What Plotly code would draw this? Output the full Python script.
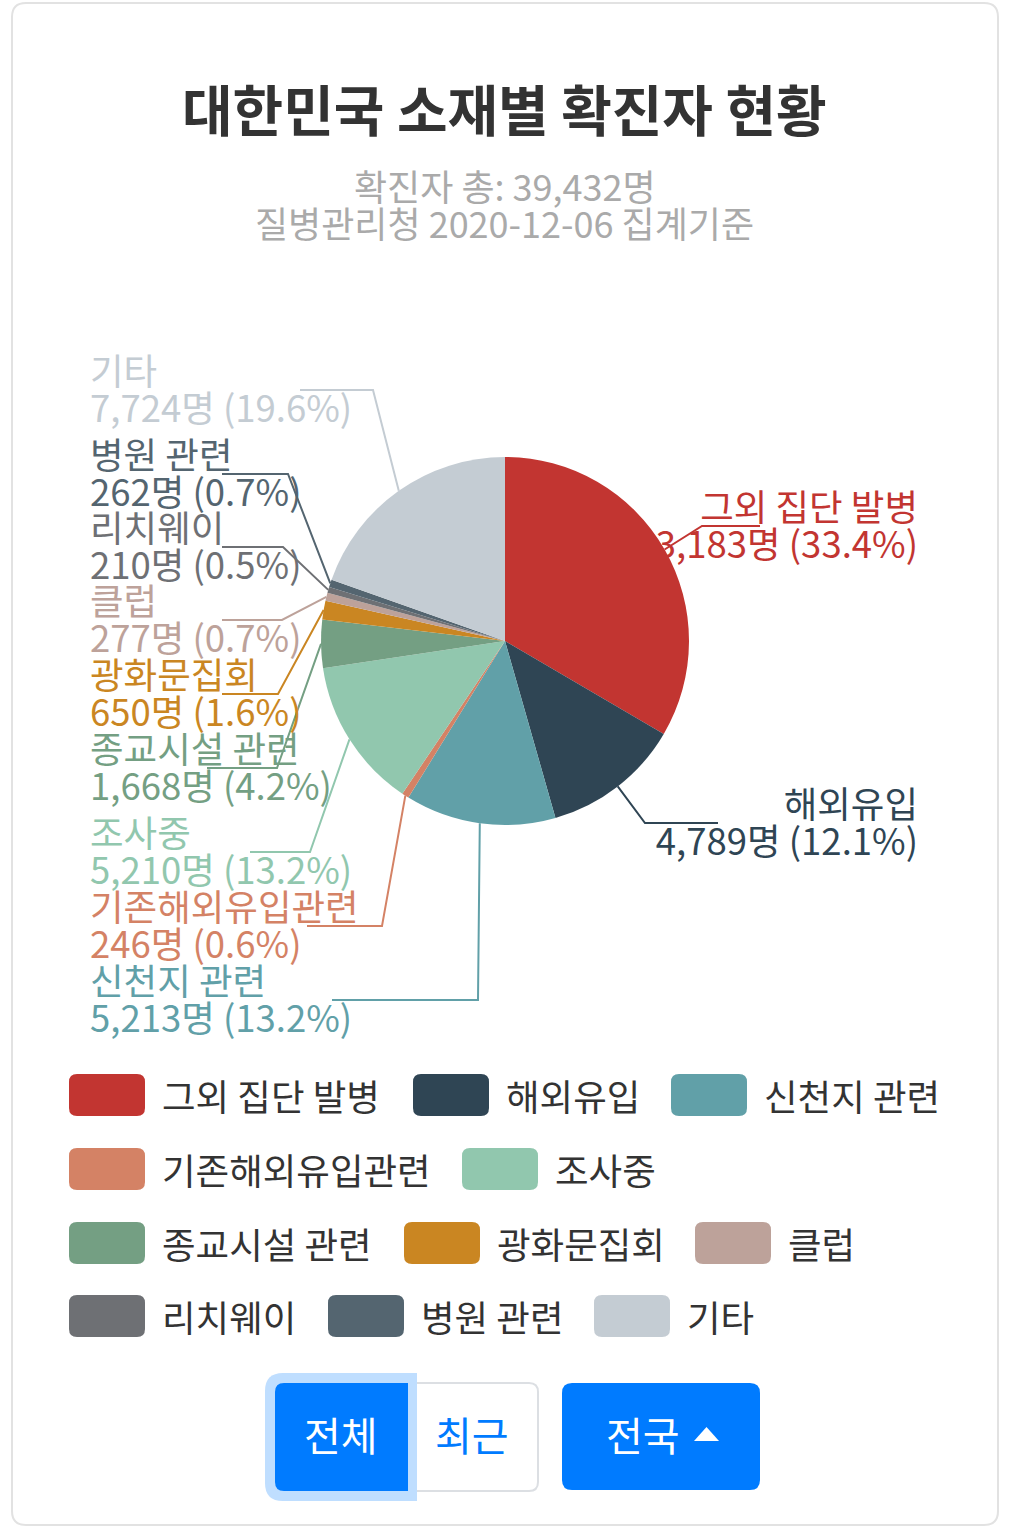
import math
import plotly.graph_objects as go

# 소재별 확진자 (질병관리청 2020-12-06 집계)
categories = ["그외 집단 발병", "해외유입", "신천지 관련", "기존해외유입관련", "조사중",
              "종교시설 관련", "광화문집회", "클럽", "리치웨이", "병원 관련", "기타"]
cases = [13183, 4789, 5213, 246, 5210, 1668, 650, 277, 210, 262, 7724]
colors = ["#c23531", "#2f4554", "#61a0a8", "#d48265", "#91c7ae", "#749f83",
          "#ca8622", "#bda29a", "#6e7074", "#546570", "#c4ccd3"]

title = "대한민국 소재별 확진자 현황"
subtitle = ["확진자 총: 39,432명", "질병관리청 2020-12-06 집계기준"]

# label layout (pixel space): side, label centre y, elbow x, end of horizontal line
label_side = ["r", "r", "l", "l", "l", "l", "l", "l", "l", "l", "l"]
label_y = [526, 823, 1000, 926, 852, 768, 694, 620, 547, 474, 390]
elbow_x = [702, 645, 478, 382, 310, 277, 278, 282, 283, 288, 373]
line_end_x = [760, 718, 332, 307, 250, 207, 222, 222, 222, 222, 300]

# legend layout: rows of (category index, rect left x)
legend_rows = [
    [(0, 69), (1, 413), (2, 671)],
    [(3, 69), (4, 462)],
    [(5, 69), (6, 404), (7, 695)],
    [(8, 69), (9, 328), (10, 594)],
]
legend_y = [1095, 1169, 1243, 1316]

W, H = 1009, 1530
CX, CY, R = 505, 641, 184
FONT = "Noto Sans CJK KR"


def rrect(x0, y0, x1, y1, tl, tr, br, bl):
    return (f"M {x0 + tl},{y0} L {x1 - tr},{y0} Q {x1},{y0} {x1},{y0 + tr} "
            f"L {x1},{y1 - br} Q {x1},{y1} {x1 - br},{y1} L {x0 + bl},{y1} "
            f"Q {x0},{y1} {x0},{y1 - bl} L {x0},{y0 + tl} Q {x0},{y0} {x0 + tl},{y0} Z")


total = sum(cases)
fig = go.Figure()

# outside labels and leader lines (drawn under the pie)
cum = 0
for i, (name, v, c) in enumerate(zip(categories, cases, colors)):
    mid = (cum + v / 2) / total * 2 * math.pi
    cum += v
    sx = CX + R * math.sin(mid)
    sy = CY - R * math.cos(mid)
    pct = v / total * 100
    right = label_side[i] == "r"
    fig.add_trace(go.Scatter(
        x=[918 if right else 90] * 2,
        y=[label_y[i] - 14, label_y[i] + 23],
        mode="text",
        text=[name, f"{v:,}명 ({pct:.1f}%)"],
        textposition="middle left" if right else "middle right",
        textfont=dict(family=FONT, size=36.5, color=c),
        hoverinfo="skip",
    ))
    fig.add_trace(go.Scatter(
        x=[sx, elbow_x[i], line_end_x[i]],
        y=[sy, label_y[i], label_y[i]],
        mode="lines",
        line=dict(color=c, width=2),
        hoverinfo="skip",
    ))

fig.add_trace(go.Pie(
    labels=categories,
    values=cases,
    marker=dict(colors=colors, line=dict(width=0)),
    sort=False,
    direction="clockwise",
    rotation=0,
    textinfo="none",
    domain=dict(x=[(CX - R) / W, (CX + R) / W], y=[1 - (CY + R) / H, 1 - (CY - R) / H]),
    hovertemplate="%{label}: %{value:,}명 (%{percent})<extra></extra>",
))

shapes = [dict(type="path", path=rrect(12, 3, 998, 1525, 14, 14, 14, 14),
               line=dict(color="#e2e2e2", width=2), fillcolor="rgba(0,0,0,0)", layer="below")]
annotations = [
    dict(x=W / 2, y=107, text=f"<b>{title}</b>", font=dict(family=FONT, size=55, color="#333")),
    dict(x=W / 2, y=185, text=subtitle[0], font=dict(family=FONT, size=36, color="#aaa")),
    dict(x=W / 2, y=222, text=subtitle[1], font=dict(family=FONT, size=36, color="#aaa")),
]

# legend
for row, ly in zip(legend_rows, legend_y):
    for idx, lx in row:
        shapes.append(dict(type="path", path=rrect(lx, ly - 21, lx + 76, ly + 21, 8, 8, 8, 8),
                           fillcolor=colors[idx], line=dict(width=0)))
        annotations.append(dict(x=lx + 91, y=ly, text=categories[idx], xanchor="left",
                                font=dict(family=FONT, size=36.5, color="#333")))

# buttons
shapes += [
    dict(type="path", path=rrect(407, 1383, 538, 1491, 0, 9, 9, 0),
         fillcolor="white", line=dict(color="#dcdfe3", width=2)),
    dict(type="path", path=rrect(265, 1373, 417, 1501, 18, 0, 0, 18),
         fillcolor="#bfdeff", line=dict(width=0)),
    dict(type="path", path=rrect(275, 1383, 408, 1491, 9, 0, 0, 9),
         fillcolor="#007bff", line=dict(width=0)),
    dict(type="path", path=rrect(562, 1383, 760, 1490, 10, 10, 10, 10),
         fillcolor="#007bff", line=dict(width=0)),
    dict(type="path", path="M 694,1441 L 719,1441 L 706.5,1427 Z",
         fillcolor="white", line=dict(width=0)),
]
annotations += [
    dict(x=341, y=1434, text="전체", font=dict(family=FONT, size=40, color="white")),
    dict(x=472, y=1434, text="최근", font=dict(family=FONT, size=40, color="#007bff")),
    dict(x=643, y=1434, text="전국", font=dict(family=FONT, size=40, color="white")),
]
for a in annotations:
    a.setdefault("xref", "x")
    a.setdefault("yref", "y")
    a.setdefault("showarrow", False)
for s in shapes:
    s.setdefault("xref", "x")
    s.setdefault("yref", "y")

fig.update_layout(
    width=W, height=H,
    margin=dict(l=0, r=0, t=0, b=0),
    showlegend=False,
    paper_bgcolor="white", plot_bgcolor="white",
    xaxis=dict(range=[0, W], visible=False, fixedrange=True),
    yaxis=dict(range=[H, 0], visible=False, fixedrange=True),
    shapes=shapes,
    annotations=annotations,
)

fig.write_html("out.html", config={"displayModeBar": False},
               post_script="document.body.style.margin='0';")
